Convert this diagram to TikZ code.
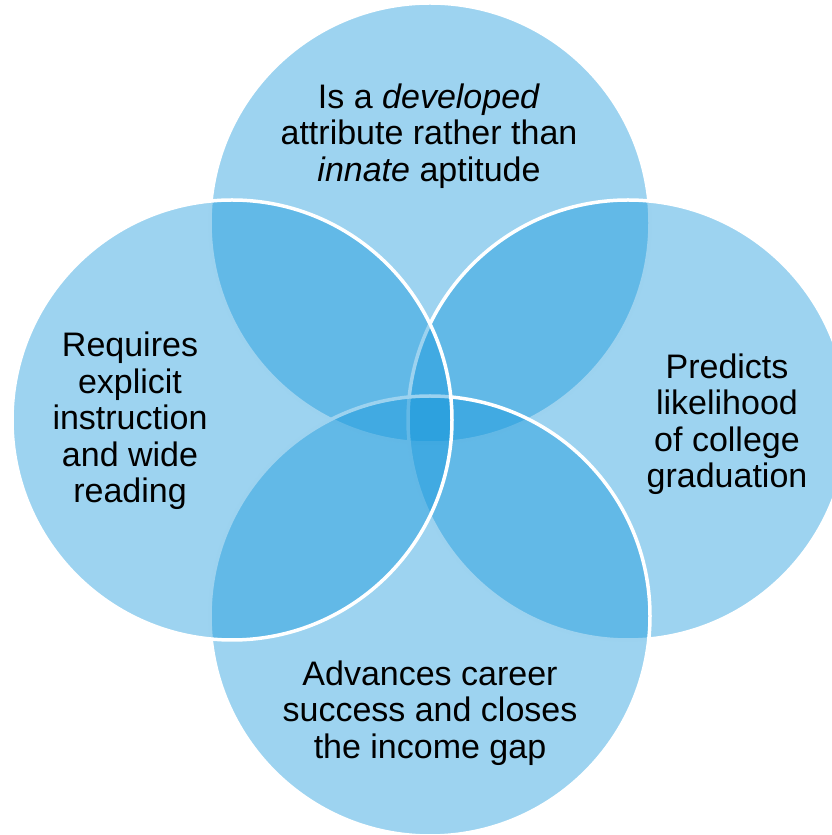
\documentclass[tikz,border=0pt]{standalone}
\usepackage{fontspec}
\setmainfont{Liberation Sans}
\usetikzlibrary{backgrounds}
\pgfdeclarelayer{circlelayer}
\pgfdeclarelayer{textlayer}
\pgfsetlayers{circlelayer,main,textlayer}
\definecolor{vennblue}{RGB}{16,148,218}
\tikzset{font=\fontsize{34}{36.5}\selectfont}
\tikzstyle{none}=[inner sep=0pt]
\tikzstyle{venn}=[circle,minimum size=440pt,inner sep=0pt,draw=white,line width=3.5pt,fill=vennblue,fill opacity=0.41]
\tikzstyle{label}=[inner sep=0pt,align=center,text=black]

\begin{document}
\begin{tikzpicture}[x=1pt,y=1pt]
	\useasboundingbox (0,0) rectangle (832,835);
	\begin{pgfonlayer}{circlelayer}
		% drawn clockwise from the top, each one over the last
		\node [style=venn] (0) at (430, 612) {};
		\node [style=venn] (1) at (628, 415) {};
		\node [style=venn] (2) at (430, 219) {};
		\node [style=venn] (3) at (232, 415) {};
	\end{pgfonlayer}
	\begin{pgfonlayer}{textlayer}
		\node [style=label] (4) at (429, 699) {Is a \textit{developed}\\attribute rather than\\\textit{innate} aptitude};
		\node [style=label] (5) at (727, 411) {Predicts\\likelihood\\of college\\graduation};
		\node [style=label] (6) at (430, 122) {Advances career\\success and closes\\the income gap};
		\node [style=label] (7) at (130, 414) {Requires\\explicit\\instruction\\and wide\\reading};
	\end{pgfonlayer}
\end{tikzpicture}
\end{document}
